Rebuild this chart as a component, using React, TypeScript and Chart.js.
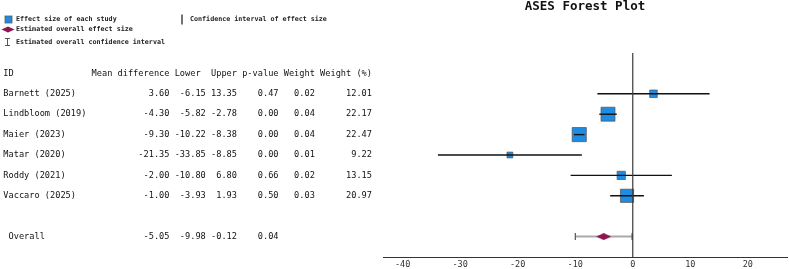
import { useEffect, useRef } from 'react';
import { Chart, registerables } from 'chart.js';

Chart.register(...registerables);

// Study-level results
const studies = ['Barnett (2025)', 'Lindbloom (2019)', 'Maier (2023)', 'Matar (2020)', 'Roddy (2021)', 'Vaccaro (2025)'];
const meanDiff = [3.6, -4.3, -9.3, -21.35, -2.0, -1.0];
const lowerCI = [-6.15, -5.82, -10.22, -33.85, -10.8, -3.93];
const upperCI = [13.35, -2.78, -8.38, -8.85, 6.8, 1.93];
const pValues = [0.47, 0.0, 0.0, 0.0, 0.66, 0.5];
const weights = [0.02, 0.04, 0.04, 0.01, 0.02, 0.03];
const weightPct = [12.01, 22.17, 22.47, 9.22, 13.15, 20.97];

// Pooled estimate
const overallMean = -5.05;
const overallLower = -9.98;
const overallUpper = -0.12;
const overallP = 0.04;

// Axis
const xTicks = [-40, -30, -20, -10, 0, 10, 20];
const xMin = -43.4;
const xMax = 26.8;

const tableHeaders = ['ID', 'Mean difference', 'Lower', 'Upper', 'p-value', 'Weight', 'Weight (%)'];

const MONO = '"DejaVu Sans Mono", "Liberation Mono", monospace';
const BLUE = '#1E8CE3';
const SQUARE_EDGE = 'rgba(85,85,85,0.75)';
const DIAMOND = '#8E1650';

// character columns of the results table: [start, width]
const tableCols: [number, number][] = [
  [0, 16], [17, 15], [33, 6], [40, 5], [46, 7], [54, 6], [61, 10],
];

// y positions are row indices: header row 1, studies 2..7, pooled row 9
const HEADER_ROW = 1;
const FIRST_STUDY_ROW = 2;
const OVERALL_ROW = 9;

function diamondImage(w: number, h: number, color: string) {
  const c = document.createElement('canvas');
  c.width = w;
  c.height = h;
  const g = c.getContext('2d')!;
  g.fillStyle = color;
  g.beginPath();
  g.moveTo(0, h / 2);
  g.lineTo(w / 2, 0);
  g.lineTo(w, h / 2);
  g.lineTo(w / 2, h);
  g.closePath();
  g.fill();
  return c;
}

const annotations = {
  id: 'forestAnnotations',
  afterDraw(chart: any) {
    const { ctx, scales } = chart;
    const y = scales.y;
    const area = chart.chartArea;
    ctx.save();

    // title
    ctx.fillStyle = '#111';
    ctx.font = `bold 12.5px ${MONO}`;
    ctx.textAlign = 'center';
    ctx.textBaseline = 'middle';
    ctx.fillText('ASES Forest Plot', (area.left + area.right) / 2, 7);

    // legend glyphs
    ctx.fillStyle = BLUE;
    ctx.strokeStyle = SQUARE_EDGE;
    ctx.lineWidth = 1;
    ctx.fillRect(5, 16, 7, 7);
    ctx.strokeRect(5, 16, 7, 7);

    ctx.strokeStyle = '#444';
    ctx.lineWidth = 1.5;
    ctx.beginPath();
    ctx.moveTo(182, 14.5);
    ctx.lineTo(182, 24.5);
    ctx.stroke();

    ctx.fillStyle = DIAMOND;
    ctx.beginPath();
    ctx.moveTo(1.5, 29.5);
    ctx.lineTo(8, 26.5);
    ctx.lineTo(14.5, 29.5);
    ctx.lineTo(8, 32.5);
    ctx.closePath();
    ctx.fill();

    ctx.strokeStyle = '#555';
    ctx.lineWidth = 1;
    ctx.beginPath();
    ctx.moveTo(7.5, 38.5);
    ctx.lineTo(7.5, 45.5);
    ctx.moveTo(5, 38.5);
    ctx.lineTo(10, 38.5);
    ctx.moveTo(5, 45.5);
    ctx.lineTo(10, 45.5);
    ctx.stroke();

    // legend text
    ctx.fillStyle = '#222';
    ctx.font = `bold 6.7px ${MONO}`;
    ctx.textAlign = 'left';
    ctx.fillText('Effect size of each study', 16, 19.5);
    ctx.fillText('Confidence interval of effect size', 190, 19.5);
    ctx.fillText('Estimated overall effect size', 16, 29.5);
    ctx.fillText('Estimated overall confidence interval', 16, 42);

    // results table
    ctx.font = `8.65px ${MONO}`;
    ctx.fillStyle = '#111';
    const cw = ctx.measureText('0').width;
    const x0 = 3.3;
    const colStart = (i: number) => x0 + tableCols[i][0] * cw;
    const colEnd = (i: number) => x0 + (tableCols[i][0] + tableCols[i][1]) * cw;

    const hy = y.getPixelForValue(HEADER_ROW);
    ctx.textAlign = 'left';
    tableHeaders.forEach((h, i) => ctx.fillText(h, colStart(i), hy));

    studies.forEach((name, i) => {
      const ry = y.getPixelForValue(FIRST_STUDY_ROW + i);
      ctx.textAlign = 'left';
      ctx.fillText(name, colStart(0), ry);
      ctx.textAlign = 'right';
      const cells = [meanDiff[i], lowerCI[i], upperCI[i], pValues[i], weights[i], weightPct[i]];
      cells.forEach((v, j) => ctx.fillText(v.toFixed(2), colEnd(j + 1), ry));
    });

    const oy = y.getPixelForValue(OVERALL_ROW);
    ctx.textAlign = 'left';
    ctx.fillText('Overall', colStart(0) + cw, oy);
    ctx.textAlign = 'right';
    [overallMean, overallLower, overallUpper, overallP].forEach((v, j) =>
      ctx.fillText(v.toFixed(2), colEnd(j + 1), oy),
    );

    ctx.restore();
  },
};

export default function App() {
  const canvasRef = useRef<HTMLCanvasElement | null>(null);

  useEffect(() => {
    document.body.style.margin = '0';
    const canvas = canvasRef.current;
    if (!canvas) return;

    const ciLines = studies.map((_, i) => ({
      type: 'line' as const,
      data: [
        { x: lowerCI[i], y: FIRST_STUDY_ROW + i },
        { x: upperCI[i], y: FIRST_STUDY_ROW + i },
      ],
      borderColor: '#111',
      borderWidth: 1.4,
      pointRadius: 0,
      showLine: true,
      order: 2,
    }));

    const chart = new Chart(canvas, {
      type: 'scatter',
      data: {
        datasets: [
          {
            // line of no effect
            data: [{ x: 0, y: 0 }, { x: 0, y: 10 }],
            borderColor: '#3a3a3a',
            borderWidth: 1.2,
            pointRadius: 0,
            showLine: true,
            order: 1,
          },
          ...ciLines,
          {
            data: meanDiff.map((m, i) => ({ x: m, y: FIRST_STUDY_ROW + i })),
            pointStyle: 'rect',
            pointRadius: weightPct.map((w) => w * 0.445),
            backgroundColor: BLUE,
            borderColor: SQUARE_EDGE,
            borderWidth: 1,
            showLine: false,
            order: 3,
          },
          {
            data: [
              { x: overallLower, y: OVERALL_ROW },
              { x: overallUpper, y: OVERALL_ROW },
            ],
            showLine: true,
            borderColor: '#aaa',
            borderWidth: 2,
            pointStyle: 'line',
            rotation: 90,
            pointRadius: 3.5,
            pointBorderColor: '#555',
            pointBorderWidth: 1.2,
            order: 5,
          },
          {
            data: [{ x: overallMean, y: OVERALL_ROW }],
            pointStyle: diamondImage(15, 7, DIAMOND),
            showLine: false,
            order: 4,
          },
        ] as any,
      },
      options: {
        animation: false,
        responsive: false,
        devicePixelRatio: 1,
        layout: { autoPadding: false, padding: { left: 383, right: 2, top: 53, bottom: 0 } },
        plugins: {
          legend: { display: false },
          tooltip: { enabled: false },
          title: { display: false },
        },
        scales: {
          x: {
            type: 'linear',
            min: xMin,
            max: xMax,
            afterBuildTicks: (s: any) => {
              s.ticks = xTicks.map((v) => ({ value: v }));
            },
            afterFit: (s: any) => {
              s.height = 12;
              s.paddingLeft = 0;
              s.paddingRight = 0;
            },
            grid: { display: true, color: 'transparent', drawTicks: false, drawOnChartArea: false },
            border: { display: true, color: '#333', width: 1 },
            ticks: {
              padding: 3,
              color: '#333',
              font: { family: MONO, size: 8.5 },
              maxRotation: 0,
              autoSkip: false,
            },
          },
          y: {
            type: 'linear',
            display: false,
            min: 0,
            max: 10,
            reverse: true,
          },
        },
      },
      plugins: [annotations],
    });

    return () => chart.destroy();
  }, []);

  return (
    <div style={{ width: 789, height: 269 }}>
      <canvas ref={canvasRef} width={789} height={269} style={{ display: 'block' }} />
    </div>
  );
}
